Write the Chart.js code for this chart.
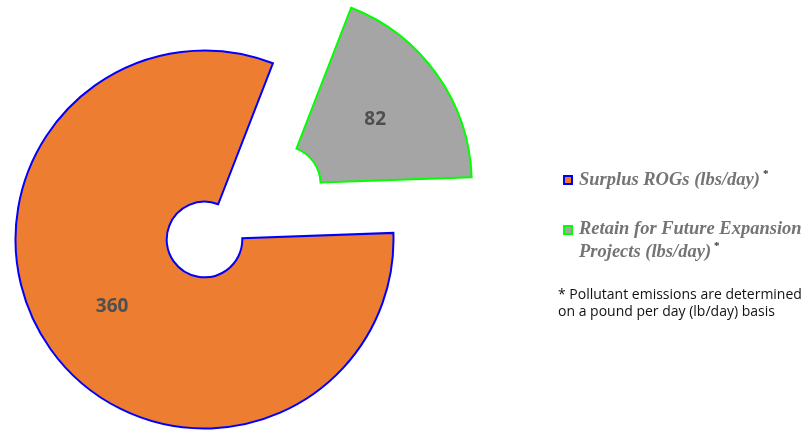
<!DOCTYPE html>
<html>
<head>
<meta charset="utf-8">
<script src="https://cdn.jsdelivr.net/npm/chart.js@4/dist/chart.umd.min.js"></script>
<style>
  html, body { margin:0; padding:0; background:#fff; overflow:hidden; }
  #wrap { position:relative; width:806px; height:430px; }
  #pieCanvas { position:absolute; left:0; top:0; }
  .lg-box { position:absolute; width:10px; height:10px; box-sizing:border-box; border:2px solid; }
  .lg-txt { position:absolute; font-family:"Liberation Serif","Times New Roman",serif; font-weight:bold; font-style:italic;
            font-size:18.5px; line-height:22.5px; color:#747474; white-space:nowrap; }
  .lg-txt sup { font-size:11px; font-style:normal; color:#303030; vertical-align:8px; line-height:0; margin-left:3px; }
  .note { position:absolute; left:558px; top:285px; font-family:"Open Sans",sans-serif; font-size:14px; line-height:17px; color:#111; white-space:nowrap; }
</style>
</head>
<body>
<div id="wrap">
  <canvas id="pieCanvas" width="806" height="430"></canvas>
  <div id="legend"></div>
  <div class="note" id="note"></div>
</div>
<script>
(function(){
'use strict';

// valores
const categorias = ['Surplus ROGs (lbs/day)', 'Retain for Future Expansion Projects (lbs/day)'];
const valores    = [360, 82];
const rellenos   = ['#ED7D31', '#A5A5A5'];
const bordes     = ['#0000FF', '#00FF00'];
const separacion = [0, 96];   // px que se separa cada porcion
const nota       = ['* Pollutant emissions are determined', 'on a pound per day (lb/day) basis'];

// separa porciones sin agrandar su radio (offset nativo de Chart.js lo cambia)
const separar = {
  id:'separar',
  afterDatasetUpdate(chart, args){
    const meta = chart.getDatasetMeta(args.index);
    meta.data.forEach((arc, i) => {
      const d = separacion[i] || 0;
      if(!d) return;
      const mid = (arc.startAngle + arc.endAngle) / 2;
      arc.x += Math.cos(mid) * d;
      arc.y += Math.sin(mid) * d;
    });
  }
};

// etiquetas de valor sobre cada porcion
const etiquetas = {
  id:'etiquetas',
  afterDatasetsDraw(chart){
    const ctx = chart.ctx;
    const meta = chart.getDatasetMeta(0);
    ctx.save();
    ctx.font = 'bold 19px "Open Sans", sans-serif';
    ctx.fillStyle = '#4f4f4f';
    ctx.textAlign = 'center';
    ctx.textBaseline = 'middle';
    meta.data.forEach((arc, i) => {
      const p = arc.getProps(['x','y','startAngle','endAngle','innerRadius','outerRadius']);
      const mid = (p.startAngle + p.endAngle) / 2;
      const r = (p.innerRadius + p.outerRadius) / 2;
      ctx.fillText(String(valores[i]), p.x + Math.cos(mid) * r, p.y + Math.sin(mid) * r + 1);
    });
    ctx.restore();
  }
};

const ctx = document.getElementById('pieCanvas').getContext('2d');
new Chart(ctx, {
  type:'doughnut',
  data:{
    labels: categorias,
    datasets:[{
      data: valores,
      backgroundColor: rellenos,
      borderColor: bordes,
      borderWidth: 2,
      borderJoinStyle: 'miter',
      hoverOffset: 0,
      clip: false
    }]
  },
  options:{
    responsive:false,
    animation:false,
    radius: 189,
    cutout: '20%',
    rotation: 88,
    layout:{ padding:{ left:0, top:49, right:397, bottom:0 } },
    events: [],
    plugins:{ legend:{ display:false }, tooltip:{ enabled:false } }
  },
  plugins:[separar, etiquetas]
});

// leyenda en HTML (asterisco en superindice)
const lg = document.getElementById('legend');
lg.innerHTML =
  `<div class="lg-box" style="left:563px;top:175px;background:${rellenos[0]};border-color:${bordes[0]}"></div>` +
  `<div class="lg-txt" style="left:579px;top:168px">Surplus ROGs (lbs/day)<sup>*</sup></div>` +
  `<div class="lg-box" style="left:563px;top:225px;background:${rellenos[1]};border-color:${bordes[1]}"></div>` +
  `<div class="lg-txt" style="left:579px;top:217px">Retain for Future Expansion<br>Projects (lbs/day)<sup>*</sup></div>`;

document.getElementById('note').innerHTML = nota.join('<br>');

})();
</script>
</body>
</html>
